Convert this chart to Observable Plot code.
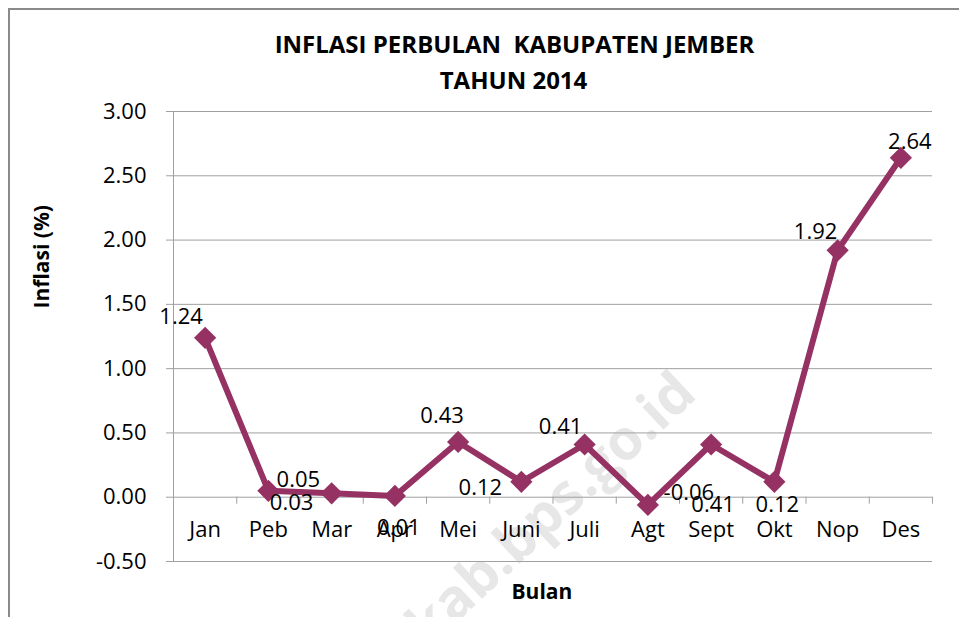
<!DOCTYPE html>
<html>
<head>
<meta charset="utf-8">
<script src="https://cdn.jsdelivr.net/npm/d3@7"></script>
<script src="https://cdn.jsdelivr.net/npm/@observablehq/plot@0.6"></script>
<style>
  html, body { margin: 0; padding: 0; background: #fff; }
  #wrap { position: relative; width: 959px; height: 617px; overflow: hidden; }
  #frame { position: absolute; left: 7.5px; top: 8px; right: -10px; bottom: -10px;
           border-left: 2px solid #8a8a8a; border-top: 2px solid #8a8a8a; pointer-events: none; }
  svg { overflow: hidden; display: block; }
</style>
</head>
<body>
<div id="wrap"><div id="chart"></div><div id="frame"></div></div>
<script>
// ---- data ----
const months = ["Jan", "Peb", "Mar", "Apr", "Mei", "Juni", "Juli", "Agt", "Sept", "Okt", "Nop", "Des"];
const inflasi = [1.24, 0.05, 0.03, 0.01, 0.43, 0.12, 0.41, -0.06, 0.41, 0.12, 1.92, 2.64];
const yTicks = [-0.5, 0, 0.5, 1, 1.5, 2, 2.5, 3];
const titleLines = ["INFLASI PERBULAN\u00a0 KABUPATEN JEMBER", "TAHUN 2014"];
// label placement (px offsets from each point), as in the source chart
const labelOffsets = [[-24,-21],[30,-11],[-40,10],[4,32],[-16,-26],[-41,6],[-24,-18],[41,-12],[2,60],[3,23],[-22,-18],[9,-16]];

const data = months.map((m, i) => ({i, month: m, value: inflasi[i]}));

const W = 959, H = 617, ML = 173, MR = 27, MT = 111, MB = 56;
const cx = (ML + (W - MR)) / 2;
const FONT = "'Open Sans', 'Noto Sans', sans-serif";
const LINE = "#953163";
const GRID = "#a0a0a0";

const labelMarks = data.map((d, k) => Plot.text([d], {
  x: "i", y: "value", text: r => r.value.toFixed(2),
  dx: labelOffsets[k][0], dy: labelOffsets[k][1],
  fontSize: 22, fill: "#000", lineAnchor: "middle"
}));

const chart = Plot.plot({
  width: W, height: H,
  marginLeft: ML, marginRight: MR, marginTop: MT, marginBottom: MB,
  style: {fontFamily: FONT, background: "#fff"},
  x: {type: "linear", domain: [-0.5, months.length - 0.5], axis: null},
  y: {domain: [yTicks[0], yTicks[yTicks.length - 1]], axis: null},
  marks: [
    // watermark
    Plot.text(["jemberkab.bps.go.id"], {frameAnchor: "top-left", dx: 686 - ML, dy: 383 - MT,
      textAnchor: "end", lineAnchor: "middle", rotate: -43, fontSize: 56, fontWeight: "bold", fill: "#e7e7e7"}),
    Plot.ruleY(yTicks, {stroke: GRID, strokeWidth: 1}),
    Plot.axisY({ticks: yTicks, tickSize: 7, tickPadding: 20, tickFormat: d => d.toFixed(2),
      fontSize: 22, stroke: GRID, fill: "#000", label: null}),
    Plot.ruleX([-0.5], {stroke: GRID, strokeWidth: 1}),
    Plot.ruleX(d3.range(-0.5, months.length, 1), {y1: 0, y2: 0, insetBottom: -7, stroke: GRID}),
    Plot.text(data, {x: "i", y: 0, text: "month", dy: 33, fontSize: 22, fill: "#000", lineAnchor: "middle"}),
    Plot.line(data, {x: "i", y: "value", stroke: LINE, strokeWidth: 6, strokeLinejoin: "round"}),
    Plot.dot(data, {x: "i", y: "value", symbol: "diamond2", r: 10, fill: LINE, stroke: "none"}),
    ...labelMarks,
    // titles
    Plot.text([titleLines[0]], {frameAnchor: "top", dx: 514 - cx, dy: 44.5 - MT, fontSize: 24, fontWeight: "bold", fill: "#000", lineAnchor: "middle"}),
    Plot.text([titleLines[1]], {frameAnchor: "top", dx: 513 - cx, dy: 80.5 - MT, fontSize: 24, fontWeight: "bold", fill: "#000", lineAnchor: "middle"}),
    Plot.text(["Inflasi (%)"], {frameAnchor: "top-left", dx: 42 - ML, dy: 308 - MT, rotate: -90, fontSize: 21, fontWeight: "bold", fill: "#000", lineAnchor: "middle"}),
    Plot.text(["Bulan"], {frameAnchor: "top-left", dx: 511 - ML, dy: 592 - MT, fontSize: 21, fontWeight: "bold", fill: "#000", lineAnchor: "middle"})
  ]
});
document.getElementById("chart").appendChild(chart);
</script>
</body>
</html>
